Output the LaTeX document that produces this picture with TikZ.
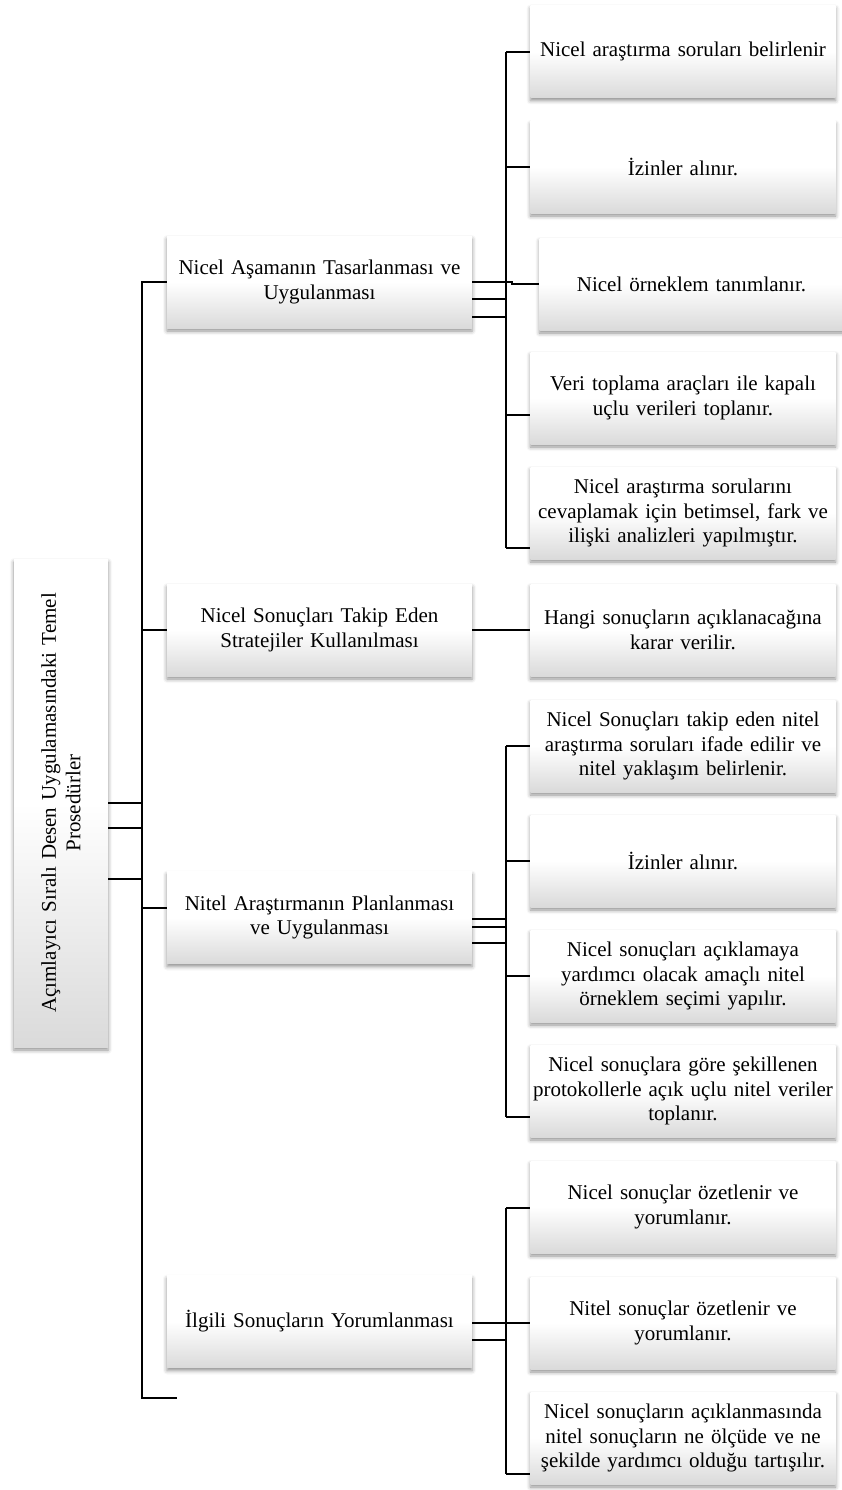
\documentclass[tikz,border=0pt]{standalone}
\usepackage{fontspec}
\setmainfont{Liberation Serif}
\usetikzlibrary{shadows.blur}
\definecolor{BoxGray}{RGB}{218,218,218}
\hyphenpenalty=10000

\begin{document}
\begin{tikzpicture}[x=1pt, y=-1pt,
    box/.style={top color=white, bottom color=BoxGray, middle color=white,
        blur shadow={shadow xshift=0pt, shadow yshift=-3pt, shadow blur radius=4pt, shadow opacity=45},
        minimum width=305pt, minimum height=92pt, text width=300pt, inner sep=2pt,
        align=center, font=\fontsize{21}{24.5}\selectfont},
    link/.style={line width=1.8pt}]
        \useasboundingbox (0,0) rectangle (841,1490);
        % root
        \node[box, minimum width=94pt, minimum height=488pt, text width=88pt] (root) at (61,803)
            {\rotatebox{90}{\parbox{480pt}{\centering Açımlayıcı Sıralı Desen Uygulamasındaki Temel\\Prosedürler}}};
        % main stages
        \node[box] (nA) at (319.5,282)    {Nicel Aşamanın Tasarlanması ve\\Uygulanması};
        \node[box] (nB) at (319.5,630)    {Nicel Sonuçları Takip Eden\\Stratejiler Kullanılması};
        \node[box] (nC) at (319.5,917.5)  {Nitel Araştırmanın Planlanması\\ve Uygulanması};
        \node[box] (nD) at (319.5,1321.5) {İlgili Sonuçların Yorumlanması};
        % steps
        \node[box] (nA1) at (683,51.5) {Nicel araştırma soruları belirlenir};
        \node[box] (nA2) at (683,167)  {İzinler alınır.};
        \node[box, minimum width=297pt] (nA3) at (691.5,284) {Nicel örneklem tanımlanır.};
        \node[box] (nA4) at (683,398)  {Veri toplama araçları ile kapalı\\uçlu verileri toplanır.};
        \node[box] (nA5) at (683,513)  {Nicel araştırma sorularını\\cevaplamak için betimsel, fark ve\\ilişki analizleri yapılmıştır.};
        \node[box] (nB1) at (683,630)  {Hangi sonuçların açıklanacağına\\karar verilir.};
        \node[box] (nC1) at (683,746)  {Nicel Sonuçları takip eden nitel\\araştırma soruları ifade edilir ve\\nitel yaklaşım belirlenir.};
        \node[box] (nC2) at (683,861)  {İzinler alınır.};
        \node[box] (nC3) at (683,976)  {Nicel sonuçları açıklamaya\\yardımcı olacak amaçlı nitel\\örneklem seçimi yapılır.};
        \node[box] (nC4) at (683,1091) {Nicel sonuçlara göre şekillenen\\protokollerle açık uçlu nitel veriler\\toplanır.};
        \node[box] (nD1) at (683,1207) {Nicel sonuçlar özetlenir ve\\yorumlanır.};
        \node[box] (nD2) at (683,1323) {Nitel sonuçlar özetlenir ve\\yorumlanır.};
        \node[box] (nD3) at (683,1438) {Nicel sonuçların açıklanmasında\\nitel sonuçların ne ölçüde ve ne\\şekilde yardımcı olduğu tartışılır.};
        % trunk
        \coordinate (trunkEnd)  at (142,1398);
        \coordinate (trunkFoot) at (177,1398);
        \coordinate (stubC)     at ([yshift=9.5pt]nC.west);
        \draw[link] (nA.west) -| (trunkEnd) -- (trunkFoot);
        \draw[link] (nB.west -| trunkEnd) -- (nB.west);
        \draw[link] (stubC -| trunkEnd) -- (stubC);
        \foreach \dy in {0,25,76} {
            \draw[link] ([yshift=-\dy pt]root.east) -- ++(34,0);
        }
        % first stage
        \coordinate (busA)    at (506,52);
        \coordinate (busAend) at (506,548);
        \coordinate (stubA4)  at ([yshift=-17pt]nA4.west);
        \draw[link] (busA) -- (busAend);
        \foreach \dy in {0,17,35} {
            \draw[link] ([yshift=-\dy pt]nA.east) -- ++(34,0);
        }
        \draw[link] (busA) -- (busA -| nA1.west);
        \draw[link] (nA2.west -| busA) -- (nA2.west);
        \draw[link] (nA.east -| busA) -- ++(6,0) |- (nA3.west);
        \draw[link] (stubA4 -| busA) -- (stubA4);
        \draw[link] (busAend) -- (busAend -| nA5.west);
        % second stage
        \draw[link] (nB.east) -- (nB1.west);
        % third stage
        \coordinate (busC)    at (506,746);
        \coordinate (busCend) at (506,1117);
        \draw[link] (busC) -- (busCend);
        \foreach \dy in {-1.5,-9.5,-25.5} {
            \draw[link] ([yshift=\dy pt]nC.east) -- ++(34,0);
        }
        \foreach \n in {nC1, nC2, nC3} {
            \draw[link] (\n.west -| busC) -- (\n.west);
        }
        \draw[link] (busCend) -- (busCend -| nC4.west);
        % fourth stage
        \coordinate (busD)    at (506,1208);
        \coordinate (busDend) at (506,1474);
        \draw[link] (busD) -- (busDend);
        \draw[link] ([yshift=-1.5pt]nD.east) -- ([yshift=-1.5pt]nD.east -| nD2.west);
        \draw[link] ([yshift=-18.5pt]nD.east) -- ++(34,0);
        \draw[link] (busD) -- (busD -| nD1.west);
        \draw[link] (busDend) -- (busDend -| nD3.west);
    \end{tikzpicture}
\end{document}
